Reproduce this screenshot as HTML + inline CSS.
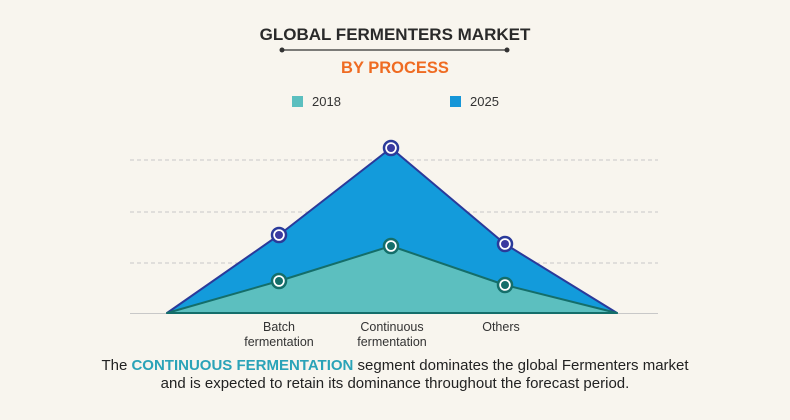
<!DOCTYPE html>
<html><head><meta charset="utf-8"><style>
body{margin:0;width:790px;height:415px;background:#f8f5ee;font-family:"Liberation Sans",sans-serif;overflow:hidden}
</style></head><body>
<svg width="790" height="415" xmlns="http://www.w3.org/2000/svg">
<rect width="790" height="415" fill="#f8f5ee"/>
<text x="395" y="40" text-anchor="middle" font-family="Liberation Sans" font-weight="bold" font-size="17" fill="#2a2a2a">GLOBAL FERMENTERS MARKET</text>
<line x1="282" y1="50" x2="507" y2="50" stroke="#333" stroke-width="1.2"/>
<circle cx="282" cy="50" r="2.5" fill="#333"/><circle cx="507" cy="50" r="2.5" fill="#333"/>
<text x="395" y="73" text-anchor="middle" font-family="Liberation Sans" font-weight="bold" font-size="16.5" fill="#ef6b22">BY PROCESS</text>
<rect x="292" y="96" width="11" height="11" fill="#5bbfbf"/>
<text x="312" y="106" font-size="13" fill="#333">2018</text>
<rect x="450" y="96" width="11" height="11" fill="#1696d8"/>
<text x="470" y="106" font-size="13" fill="#333">2025</text>
<g stroke="#c8c8c8" stroke-dasharray="4,3" stroke-width="1">
<line x1="130" y1="160" x2="658" y2="160"/><line x1="130" y1="212" x2="658" y2="212"/><line x1="130" y1="263" x2="658" y2="263"/></g>
<line x1="130" y1="313.5" x2="658" y2="313.5" stroke="#c8c8c8"/>
<polygon points="167,313 279,235 391,148 505,244 617,313" fill="#139bdb" stroke="#2a3a9a" stroke-width="2" stroke-linejoin="round"/>
<polygon points="167,313 279,281 391,246 505,285 617,313" fill="#5cbfbf" stroke="#146e6a" stroke-width="2" stroke-linejoin="round"/>
<line x1="167" y1="313" x2="617" y2="313" stroke="#146e6a" stroke-width="2"/>
<g stroke-width="2.5" fill="#fff">
<circle cx="279" cy="235" r="7" stroke="#2a3a9a"/><circle cx="391" cy="148" r="7" stroke="#2a3a9a"/><circle cx="505" cy="244" r="7" stroke="#2a3a9a"/>
<circle cx="279" cy="281" r="7" stroke="#146e6a"/><circle cx="391" cy="246" r="7" stroke="#146e6a"/><circle cx="505" cy="285" r="7" stroke="#146e6a"/></g>
<g fill="#3a3aa0"><circle cx="279" cy="235" r="4"/><circle cx="391" cy="148" r="4"/><circle cx="505" cy="244" r="4"/></g>
<g fill="#146e6a"><circle cx="279" cy="281" r="4"/><circle cx="391" cy="246" r="4"/><circle cx="505" cy="285" r="4"/></g>
<g font-size="12.5" fill="#333" text-anchor="middle">
<text x="279" y="331">Batch</text><text x="279" y="346">fermentation</text>
<text x="392" y="331">Continuous</text><text x="392" y="346">fermentation</text>
<text x="501" y="331">Others</text></g>
<text x="395" y="370" text-anchor="middle" font-size="15" fill="#222">The <tspan font-weight="bold" fill="#2aa3b8">CONTINUOUS FERMENTATION</tspan> segment dominates the global Fermenters market</text>
<text x="395" y="388" text-anchor="middle" font-size="15" fill="#222">and is expected to retain its dominance throughout the forecast period.</text>
</svg>
</body></html>
